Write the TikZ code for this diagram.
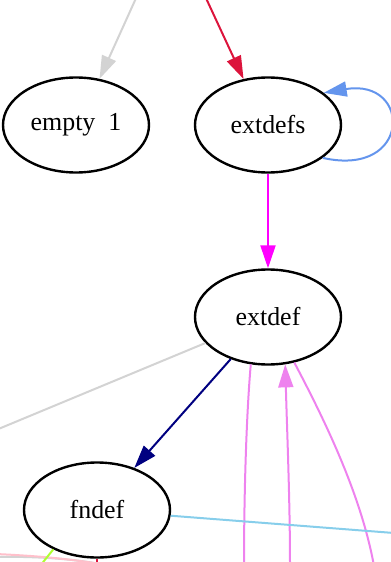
\documentclass[tikz,border=0pt]{standalone}
\usepackage{fontspec}
\setmainfont{Liberation Serif}
\usepackage{xcolor}
\usepackage{tikz}
\usetikzlibrary{positioning,arrows.meta,shapes.geometric,calc}
\definecolor{edgegray}{RGB}{211,211,211}
\definecolor{edgecrimson}{RGB}{220,20,60}
\definecolor{edgeblue}{RGB}{100,149,237}
\definecolor{edgemagenta}{RGB}{255,0,255}
\definecolor{edgenavy}{RGB}{0,0,128}
\definecolor{edgeviolet}{RGB}{238,130,238}
\definecolor{edgesky}{RGB}{135,206,235}
\definecolor{edgegreen}{RGB}{173,255,47}
\definecolor{edgepink}{RGB}{255,192,203}
\tikzset{
  state-node/.style={draw=black, line width=2.4bp, ellipse, minimum width=146bp,
    minimum height=95bp, inner sep=0pt, font=\fontsize{26}{30}\selectfont},
  graph-edge/.style={line width=2bp, -{Triangle[length=23bp,width=15bp]}},
  loose-edge/.style={line width=2bp}
}
\begin{document}
\begin{tikzpicture}[x=1bp, y=-1bp]
\useasboundingbox (0,0) rectangle (390,562);

% States
\node[state-node] (empty1) at (76,125) {empty\ \ 1};
\node[state-node] (extdefs) at (268,125) {extdefs};
\node[state-node] (extdef) at (268,317) {extdef};
\node[state-node] (fndef) at (97,510) {fndef};

% Ends of edges cut off by the frame
\coordinate (topgray) at (137,-4);
\coordinate (topred) at (205,-4);
\coordinate (leftgray) at (-4,430);
\coordinate (violetA) at (244,566);
\coordinate (violetB) at (290,566);
\coordinate (violetC) at (374,566);
\coordinate (rightsky) at (394,533);
\coordinate (greenend) at (40,566);
\coordinate (redend) at (97,566);
\coordinate (pinkstart) at (-4,554);
\coordinate (pinkend) at (100,564);
\coordinate (graystart) at (-4,557);

% Edges
\draw[graph-edge, draw=edgegray] (topgray) -- (empty1.63);
\draw[graph-edge, draw=edgecrimson] (topred) -- (extdefs.118);
\draw[graph-edge, draw=edgeblue] (extdefs.-31) .. controls (412,178) and (412,78) .. (extdefs.30);
\draw[graph-edge, draw=edgemagenta] (extdefs) -- (extdef);
\draw[loose-edge, draw=edgegray] (extdef) -- (leftgray);
\draw[graph-edge, draw=edgenavy] (extdef) -- (fndef);
\draw[loose-edge, draw=edgeviolet] (extdef.-110) .. controls (246,420) and (244,500) .. (violetA);
\draw[graph-edge, draw=edgeviolet] (violetB) .. controls (290,500) and (287,430) .. (extdef.-70);
\draw[loose-edge, draw=edgeviolet] (extdef.-60) .. controls (330,430) and (362,500) .. (violetC);
\draw[loose-edge, draw=edgesky] (fndef) -- (rightsky);
\draw[loose-edge, draw=edgegray] (graystart) .. controls (40,556) and (80,560) .. (pinkend);
\draw[loose-edge, draw=edgepink] (pinkstart) .. controls (40,556) and (70,559) .. (pinkend);
\draw[loose-edge, draw=edgegreen] (fndef.-138) -- (greenend);
\draw[loose-edge, draw=edgecrimson] (fndef.south) -- (redend);
\end{tikzpicture}
\end{document}
